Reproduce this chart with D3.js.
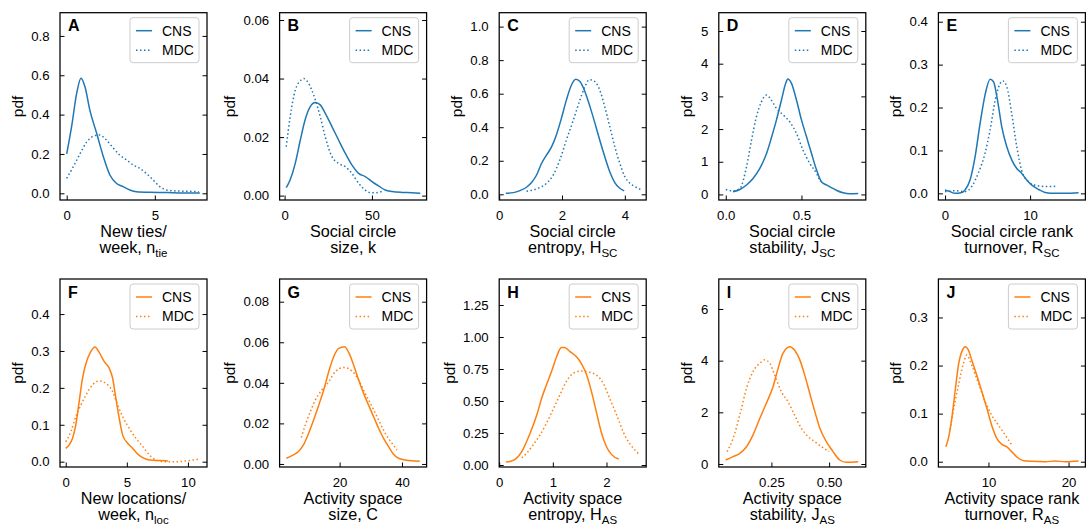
<!DOCTYPE html>
<html><head><meta charset="utf-8">
<script src="https://cdn.jsdelivr.net/npm/d3@7"></script>
<style>
body{margin:0;background:#fff}
svg{display:block}
text{font-family:"Liberation Sans",Arial,Helvetica,sans-serif;fill:#000}
</style>
</head><body>
<svg id="chart" width="1086" height="527"></svg>
<script>
// ---------- data (x, pdf) ----------
const A_CNS = [[0,0.2],[0.28,0.34],[0.57,0.51],[0.81,0.585],[1.04,0.54],[1.32,0.42],[1.7,0.305],[2.08,0.186],[2.45,0.093],[2.83,0.05],[3.2,0.034],[3.58,0.017],[3.96,0.008],[4.7,0.005],[5.66,0.004],[6.6,0.002],[7.55,0.002]];
const A_MDC = [[0,0.076],[0.38,0.136],[0.75,0.2],[1.13,0.26],[1.5,0.29],[1.85,0.297],[2.26,0.27],[2.64,0.23],[3.0,0.195],[3.4,0.17],[3.77,0.144],[4.15,0.127],[4.53,0.10],[4.9,0.068],[5.28,0.034],[5.66,0.017],[6.2,0.012],[7.0,0.01],[7.5,0.008]];
const B_CNS = [[0.95,0.0027],[3.2,0.0054],[6.1,0.011],[9,0.019],[11.8,0.026],[14.7,0.0304],[17.6,0.0318],[20.4,0.031],[23.3,0.0281],[27.1,0.0236],[30.9,0.019],[34.7,0.0145],[38.5,0.0105],[42.4,0.0076],[46.2,0.0065],[50,0.0048],[53.8,0.0033],[57.6,0.0019],[61.5,0.0014],[67.2,0.0011],[72.9,0.001],[77.7,0.0008]];
const B_MDC = [[0.95,0.0167],[3.2,0.027],[6.1,0.036],[9.5,0.0395],[11,0.04],[13.7,0.0384],[17.6,0.0327],[20.4,0.027],[23.3,0.020],[27.1,0.0133],[30.9,0.011],[34.7,0.0099],[38.5,0.0076],[42.4,0.0042],[46.2,0.0019],[49,0.001],[52,0.001],[55.7,0.0014]];
const C_CNS = [[0.21,0.006],[0.45,0.01],[0.66,0.022],[0.87,0.042],[1.03,0.07],[1.19,0.115],[1.35,0.185],[1.51,0.235],[1.67,0.284],[1.82,0.354],[1.98,0.453],[2.14,0.563],[2.30,0.652],[2.44,0.686],[2.57,0.672],[2.73,0.612],[2.89,0.523],[3.05,0.423],[3.2,0.324],[3.36,0.225],[3.52,0.135],[3.68,0.07],[3.84,0.036],[3.98,0.02]];
const C_MDC = [[0.87,0.018],[1.08,0.026],[1.29,0.04],[1.51,0.066],[1.72,0.115],[1.93,0.205],[2.14,0.324],[2.36,0.443],[2.57,0.563],[2.73,0.642],[2.87,0.684],[3.05,0.672],[3.2,0.622],[3.36,0.523],[3.52,0.404],[3.68,0.284],[3.84,0.185],[4.0,0.105],[4.16,0.066],[4.32,0.046],[4.53,0.026]];
const D_CNS = [[0.048,0.08],[0.093,0.15],[0.137,0.29],[0.18,0.49],[0.225,0.8],[0.27,1.26],[0.30,1.71],[0.335,2.28],[0.368,2.89],[0.396,3.4],[0.41,3.53],[0.434,3.4],[0.467,2.89],[0.5,2.28],[0.533,1.77],[0.566,1.26],[0.6,0.745],[0.632,0.39],[0.665,0.29],[0.7,0.2],[0.73,0.13],[0.775,0.05],[0.82,0.02],[0.875,0.03]];
const D_MDC = [[0,0.15],[0.048,0.11],[0.093,0.18],[0.137,0.85],[0.17,1.66],[0.2,2.33],[0.236,2.84],[0.27,3.04],[0.3,2.89],[0.335,2.63],[0.38,2.43],[0.423,2.22],[0.467,1.87],[0.51,1.36],[0.555,0.95],[0.6,0.64],[0.625,0.39]];
const E_CNS = [[0,0.008],[0.59,0.004],[1.18,0.0],[1.96,0.002],[2.35,0.008],[2.94,0.031],[3.53,0.085],[4.12,0.163],[4.7,0.229],[5.3,0.266],[5.7,0.26],[6.1,0.225],[6.67,0.155],[7.25,0.109],[7.84,0.078],[8.43,0.058],[9.0,0.047],[9.6,0.031],[10.2,0.019],[11.0,0.009],[11.76,0.002],[12.9,0.0],[14.1,0.0],[15.7,0.0016]];
const E_MDC = [[0,0.004],[1.18,0.006],[2.35,0.004],[3.14,0.016],[3.9,0.047],[4.7,0.093],[5.3,0.148],[5.9,0.217],[6.47,0.256],[6.8,0.262],[7.25,0.249],[7.84,0.186],[8.43,0.109],[9.0,0.054],[9.8,0.027],[10.6,0.019],[11.76,0.016],[12.5,0.016],[13.25,0.017]];
const F_CNS = [[0,0.036],[0.27,0.045],[0.55,0.063],[0.82,0.099],[1.1,0.163],[1.37,0.226],[1.7,0.271],[2.05,0.298],[2.38,0.311],[2.74,0.296],[3.15,0.271],[3.56,0.253],[3.84,0.226],[4.1,0.172],[4.38,0.117],[4.66,0.072],[5.07,0.05],[5.48,0.036],[5.9,0.02],[6.3,0.011],[6.85,0.0045],[7.67,0.003],[8.36,0.002]];
const F_MDC = [[0,0.054],[0.41,0.081],[0.82,0.122],[1.23,0.153],[1.64,0.18],[2.19,0.208],[2.74,0.219],[3.29,0.212],[3.84,0.19],[4.25,0.153],[4.66,0.122],[5.2,0.09],[5.75,0.063],[6.3,0.041],[6.85,0.018],[7.4,0.0045],[8.2,0.0],[9.04,0.0],[9.86,0.002],[10.7,0.006],[10.9,0.007]];
const G_CNS = [[2.9,0.0028],[4.7,0.0041],[6.8,0.0061],[8.4,0.0094],[10.05,0.0151],[11.66,0.0217],[13.3,0.029],[14.9,0.0365],[16.5,0.0455],[18.1,0.0529],[19.7,0.057],[21.6,0.0578],[22.9,0.055],[24.5,0.0488],[26.1,0.0414],[27.7,0.0348],[29.3,0.029],[30.9,0.0233],[32.5,0.0176],[34.1,0.0126],[35.7,0.0085],[37.3,0.0048],[38.9,0.0028],[41.07,0.002],[44.3,0.0015],[45.7,0.0013]];
const G_MDC = [[7.7,0.013],[9.0,0.0192],[10.6,0.0258],[12.2,0.0315],[14.3,0.0365],[16.5,0.0405],[18.6,0.0455],[21.3,0.0476],[24,0.0458],[26.1,0.0414],[28.2,0.0348],[30.4,0.0283],[32.5,0.0217],[34.65,0.0151],[36.8,0.0102],[38.4,0.0069]];
const H_CNS = [[0.124,0.023],[0.23,0.031],[0.32,0.052],[0.42,0.104],[0.51,0.182],[0.6,0.273],[0.7,0.39],[0.79,0.52],[0.88,0.625],[0.975,0.73],[1.07,0.846],[1.16,0.917],[1.22,0.917],[1.32,0.885],[1.44,0.846],[1.53,0.794],[1.63,0.703],[1.72,0.573],[1.81,0.417],[1.9,0.26],[2.0,0.143],[2.09,0.083],[2.23,0.047]];
const H_MDC = [[0.42,0.057],[0.51,0.091],[0.63,0.156],[0.76,0.234],[0.88,0.326],[1.0,0.43],[1.13,0.547],[1.25,0.651],[1.38,0.716],[1.53,0.734],[1.69,0.724],[1.81,0.703],[1.94,0.638],[2.06,0.52],[2.19,0.39],[2.31,0.26],[2.43,0.169],[2.53,0.117],[2.62,0.078]];
const I_CNS = [[0.052,0.155],[0.084,0.284],[0.113,0.413],[0.142,0.67],[0.17,1.12],[0.2,1.77],[0.228,2.35],[0.257,2.99],[0.279,3.7],[0.3,4.28],[0.33,4.54],[0.35,4.41],[0.373,4.03],[0.394,3.45],[0.416,2.74],[0.438,2.03],[0.46,1.38],[0.488,0.865],[0.517,0.48],[0.546,0.155],[0.575,0.065],[0.626,0.09]];
const I_MDC = [[0.058,0.477],[0.084,0.99],[0.113,1.9],[0.142,2.93],[0.17,3.57],[0.2,3.9],[0.221,4.03],[0.243,3.9],[0.264,3.45],[0.293,2.8],[0.322,2.41],[0.35,1.9],[0.38,1.38],[0.409,1.06],[0.438,0.865],[0.467,0.67],[0.5,0.477]];
const J_CNS = [[4.67,0.031],[5.0,0.0485],[5.42,0.09],[5.83,0.146],[6.25,0.201],[6.75,0.232],[7.08,0.239],[7.5,0.232],[7.92,0.211],[8.54,0.18],[9.17,0.146],[9.8,0.111],[10.4,0.076],[11.04,0.0485],[11.67,0.036],[12.3,0.031],[12.9,0.021],[13.5,0.0104],[14.4,0.002],[15.4,0.0007],[17.1,0.0],[18.3,0.0014],[19.6,0.0],[21.25,0.0014]];
const J_MDC = [[5.2,0.066],[5.6,0.104],[6.25,0.159],[6.875,0.204],[7.3,0.222],[7.9,0.201],[8.75,0.163],[9.58,0.125],[10.4,0.097],[11.25,0.076],[12.1,0.055],[12.9,0.035]];

// ---------- tick values ----------
const A_XT = [0,5],       A_YT = [0,0.2,0.4,0.6,0.8];
const B_XT = [0,50],      B_YT = [0,0.02,0.04,0.06];
const C_XT = [0,2,4],     C_YT = [0,0.2,0.4,0.6,0.8,1.0];
const D_XT = [0,0.5],     D_YT = [0,1,2,3,4,5];
const E_XT = [0,10],      E_YT = [0,0.1,0.2,0.3,0.4];
const F_XT = [0,5,10],    F_YT = [0,0.1,0.2,0.3,0.4];
const G_XT = [20,40],     G_YT = [0,0.02,0.04,0.06,0.08];
const H_XT = [0,1,2],     H_YT = [0,0.25,0.5,0.75,1.0,1.25];
const I_XT = [0.25,0.5],  I_YT = [0,2,4,6];
const J_XT = [10,20],     J_YT = [0,0.1,0.2,0.3];

// ---------- labels ----------
const LETTERS = ["A","B","C","D","E","F","G","H","I","J"];
const XLABEL1 = ["New ties/","Social circle","Social circle","Social circle","Social circle rank",
                 "New locations/","Activity space","Activity space","Activity space","Activity space rank"];
const XLABEL2 = ["week, n","size, k","entropy, H","stability, J","turnover, R",
                 "week, n","size, C","entropy, H","stability, J","turnover, R"];
const XSUB = ["tie","","SC","SC","SC","loc","","AS","AS","AS"];
const SERIES = ["CNS","MDC"];

const BLUE = "#1f77b4", ORANGE = "#ff7f0e";

const panels = [
  {cns:A_CNS, mdc:A_MDC, xd:[-0.38,7.96],  yd:[-0.034,0.918], xt:A_XT, yt:A_YT, xf:"d",   yf:".1f"},
  {cns:B_CNS, mdc:B_MDC, xd:[-2.86,81.3],  yd:[-0.0015,0.0625],xt:B_XT, yt:B_YT, xf:"d",   yf:".2f"},
  {cns:C_CNS, mdc:C_MDC, xd:[0,4.68],      yd:[-0.034,1.083], xt:C_XT, yt:C_YT, xf:"d",   yf:".1f"},
  {cns:D_CNS, mdc:D_MDC, xd:[-0.046,0.925],yd:[-0.17,5.56],   xt:D_XT, yt:D_YT, xf:".1f", yf:"d"},
  {cns:E_CNS, mdc:E_MDC, xd:[-0.78,16.5],  yd:[-0.0155,0.421],xt:E_XT, yt:E_YT, xf:"d",   yf:".1f"},
  {cns:F_CNS, mdc:F_MDC, xd:[-0.47,11.56], yd:[-0.0144,0.495],xt:F_XT, yt:F_YT, xf:"d",   yf:".1f"},
  {cns:G_CNS, mdc:G_MDC, xd:[0.75,47.9],   yd:[-0.0015,0.0912],xt:G_XT,yt:G_YT, xf:"d",   yf:".2f"},
  {cns:H_CNS, mdc:H_MDC, xd:[0,2.74],      yd:[-0.0156,1.453],xt:H_XT, yt:H_YT, xf:"d",   yf:".2f"},
  {cns:I_CNS, mdc:I_MDC, xd:[0.022,0.659], yd:[-0.116,7.16],  xt:I_XT, yt:I_YT, xf:".2f", yf:"d"},
  {cns:J_CNS, mdc:J_MDC, xd:[3.75,22.1],   yd:[-0.011,0.38],  xt:J_XT, yt:J_YT, xf:"d",   yf:".1f"}
];

// ---------- layout ----------
const svg = d3.select("#chart");
const W = 147;
const rowTop = [12.7, 279], rowBot = [200, 467];
const colLeft = i => 60 + i * 219.6;
const TICK = 4.5;

panels.forEach((p, idx) => {
  const row = idx < 5 ? 0 : 1, col = idx % 5;
  const L = colLeft(col), R = L + W, T = rowTop[row], B = rowBot[row];
  const color = row === 0 ? BLUE : ORANGE;
  const x = d3.scaleLinear().domain(p.xd).range([L, R]);
  const y = d3.scaleLinear().domain(p.yd).range([B, T]);
  const g = svg.append("g");

  // curves
  const line = d3.line().x(d => x(d[0])).y(d => y(d[1])).curve(d3.curveMonotoneX);
  g.append("path").datum(p.cns).attr("d", line).attr("fill","none")
    .attr("stroke", color).attr("stroke-width", 1.5);
  g.append("path").datum(p.mdc).attr("d", line).attr("fill","none")
    .attr("stroke", color).attr("stroke-width", 1.5).attr("stroke-dasharray","1.5,2.5");

  // axes (ticks inward)
  const fx = d3.format(p.xf), fy = d3.format(p.yf);
  const xAxis = g.append("g").attr("transform", `translate(0,${B})`)
    .call(d3.axisBottom(x).tickValues(p.xt).tickFormat(fx).tickSizeInner(-TICK).tickSizeOuter(0).tickPadding(10));
  const yAxis = g.append("g").attr("transform", `translate(${L},0)`)
    .call(d3.axisLeft(y).tickValues(p.yt).tickFormat(fy).tickSizeInner(-TICK).tickSizeOuter(0).tickPadding(10.5));
  g.append("g").attr("transform", `translate(${R},0)`)
    .call(d3.axisRight(y).tickValues(p.yt).tickFormat("").tickSizeInner(-TICK).tickSizeOuter(0));
  g.selectAll(".domain").remove();
  g.selectAll(".tick line").attr("stroke","#000").attr("stroke-width",1);
  g.selectAll(".tick text").attr("font-size", 13.2).attr("font-family",'"Liberation Sans",Arial,sans-serif').attr("fill","#000");
  xAxis.selectAll(".tick text").attr("dy", null).attr("y", 20);

  // frame
  g.append("rect").attr("x", L).attr("y", T).attr("width", W).attr("height", B - T)
    .attr("fill","none").attr("stroke","#000").attr("stroke-width",1.25);

  // y label
  let maxW = 0;
  yAxis.selectAll(".tick text").each(function(){ maxW = Math.max(maxW, this.getComputedTextLength()); });
  const lx = L - 10.5 - maxW - 8.5;
  g.append("text").attr("transform", `translate(${lx},${(T+B)/2}) rotate(-90)`)
    .attr("text-anchor","middle").attr("font-size", 15.5).text("pdf");

  // x label (two lines, with subscript)
  const cx = (L + R) / 2;
  g.append("text").attr("x", cx).attr("y", B + 36.5).attr("text-anchor","middle")
    .attr("font-size", 16.2).text(XLABEL1[idx]);
  const t2 = g.append("text").attr("x", cx).attr("y", B + 53).attr("text-anchor","middle")
    .attr("font-size", 16.2);
  t2.append("tspan").text(XLABEL2[idx]);
  if (XSUB[idx]) t2.append("tspan").attr("font-size", 11.5).attr("dy", 3.5).text(XSUB[idx]);

  // panel letter
  g.append("text").attr("x", L + 8).attr("y", T + 18.5).attr("font-size", 16)
    .attr("font-weight","bold").text(LETTERS[idx]);

  // legend
  const lgL = R - 77, lgT = T + 5, lgW = 69, lgH = 45;
  g.append("rect").attr("x", lgL).attr("y", lgT).attr("width", lgW).attr("height", lgH)
    .attr("rx", 3).attr("fill","#fff").attr("fill-opacity",0.8).attr("stroke","#cccccc").attr("stroke-width",1);
  SERIES.forEach((s, k) => {
    const yy = lgT + 13 + k * 19.5;
    g.append("line").attr("x1", lgL + 6).attr("x2", lgL + 22).attr("y1", yy).attr("y2", yy)
      .attr("stroke", color).attr("stroke-width", 1.5)
      .attr("stroke-dasharray", k === 0 ? null : "1.5,2.5");
    g.append("text").attr("x", lgL + 32).attr("y", yy).attr("dy","0.35em")
      .attr("font-size", 14).text(s);
  });
});
</script>
</body></html>
